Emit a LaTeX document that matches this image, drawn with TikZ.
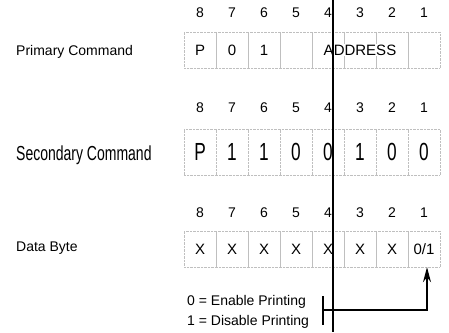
\documentclass[tikz,border=0pt]{standalone}
\usepackage{fontspec}
\setmainfont{Liberation Sans}
\usetikzlibrary{positioning,arrows.meta,calc}

\begin{document}
\begin{tikzpicture}[x=1pt, y=-1pt,
  bitnum/.style={inner sep=0pt, font=\fontsize{14}{16}\selectfont},
  cell/.style={draw=gray!50, densely dotted, minimum width=32pt,
               minimum height=36pt, inner sep=0pt,
               font=\fontsize{15}{17}\selectfont},
  tallcell/.style={cell, minimum height=46pt},
  rowlabel/.style={anchor=west, inner sep=0pt, font=\fontsize{14}{16}\selectfont},
  legend/.style={anchor=west, inner sep=0pt, font=\fontsize{14}{16}\selectfont},
  ]
  \useasboundingbox (0,0) rectangle (449,332);

  % row labels
  \node[rowlabel] (prim) at (16,52) {Primary Command};
  \node[rowlabel] (sec) at (16,155) {\scalebox{1}[1.45]{Secondary Command}};
  \node[rowlabel] (data) at (16,248) {Data Byte};

  % bit numbers and cells
  \foreach \b/\p/\s [count=\i from 0] in {8/P/P,7/0/1,6/1/1,5/{}/0,4/{}/0,3/{}/1,2/{}/0,1/{}/0} {
    \node[bitnum] (pn\b) at (200+32*\i,13) {\b};
    \node[bitnum] (sn\b) at (200+32*\i,108) {\b};
    \node[bitnum] (dn\b) at (200+32*\i,213) {\b};
    \node[cell] (p\b) at (200+32*\i,50) {\p};
    \node[tallcell] (s\b) at (200+32*\i,152) {\scalebox{1.15}[1.65]{\s}};
  }
  \foreach \b [count=\i from 0] in {8,...,2}
    \node[cell] (d\b) at (200+32*\i,249) {X};
  \node[cell] (d1) at (424,249) {0/1};
  \node[fill=white, inner sep=1pt, font=\fontsize{15}{17}\selectfont]
    (addr) at ($(p5)!0.5!(p1)$) {ADDRESS};

  % legend
  \node[legend] (en) at (187,302) {0 = Enable Printing};
  \node[legend] (dis) at (187,322) {1 = Disable Printing};
  \coordinate (brktop) at (323,296);
  \coordinate (brkbot) at (323,325);
  \coordinate (brkmid) at (323,310);
  \draw[line width=1.2pt] (brktop) -- (brkbot);
  \draw[line width=1.2pt, -{Stealth[length=15pt, width=8pt]}]
    (brkmid) -| ([xshift=3pt]d1.south);

  % divider
  \coordinate (divtop) at (333,0);
  \coordinate (divbot) at (333,332);
  \draw[line width=1.8pt] (divtop) -- (divbot);
\end{tikzpicture}
\end{document}
